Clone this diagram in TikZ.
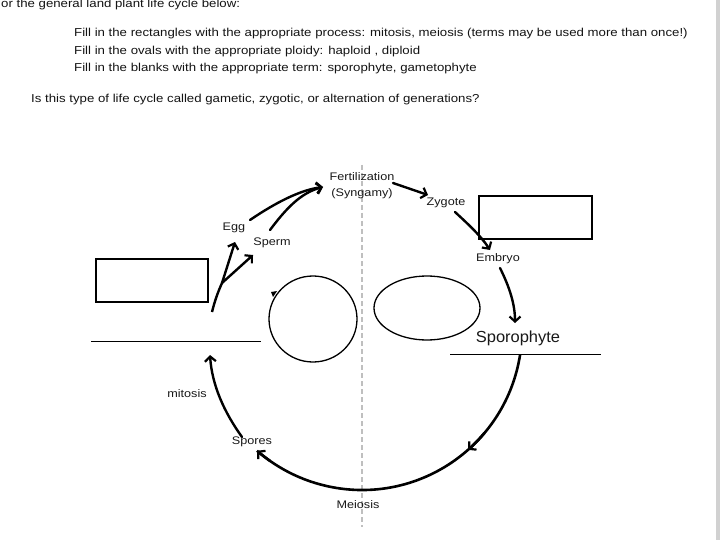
\documentclass[tikz,border=0pt]{standalone}
\usepackage{fontspec}
\setmainfont{Liberation Sans}
\usetikzlibrary{arrows.meta}
\newcommand\widetxt[1]{\scalebox{1.15}[1]{#1}}
\begin{document}
\begin{tikzpicture}[x=1pt,y=-1pt,
  hdr/.style={inner sep=0pt, anchor=west, font=\fontsize{11.5}{13}\selectfont, text=black!92},
  lbl/.style={inner sep=0pt, font=\fontsize{11}{13}\selectfont, text=black!90},
  arr/.style={line width=2.4pt, line cap=round, -{Straight Barb[length=5pt,width=11pt,line width=2.2pt]}},
  arc/.style={line width=2.6pt, -{Straight Barb[length=5pt,width=11pt,line width=2.2pt]}},
  boxe/.style={draw, line width=1.2pt},
  blank/.style={draw, line width=1pt},
  oval/.style={draw, line width=1.3pt}
]
\useasboundingbox[fill=white] (0,0) rectangle (720,540);
\fill[black!18] (716,0) rectangle (720,540);

% header text
\node[hdr] (t0) at (1,5) {\widetxt{or the general land plant life cycle below:}};
\node[hdr] (t1) at (74,34) {\widetxt{Fill in the rectangles with the appropriate process: mitosis, meiosis (terms may be used more than once!)}};
\node[hdr] (t2) at (74,52) {\widetxt{Fill in the ovals with the appropriate ploidy: haploid , diploid}};
\node[hdr] (t3) at (74,69) {\widetxt{Fill in the blanks with the appropriate term: sporophyte, gametophyte}};
\node[hdr] (t4) at (31,100) {\widetxt{Is this type of life cycle called gametic, zygotic, or alternation of generations?}};

% dashed divider
\draw[black!25, line width=1.3pt, dash pattern=on 5pt off 3pt] (362,165) coordinate (dtop) -- (362,527) coordinate (dbot);

% labels
\node[lbl, align=center, font=\fontsize{11}{16}\selectfont] (fert) at (362,186) {\widetxt{Fertilization}\\\widetxt{(Syngamy)}};
\node[lbl] (zyg) at (446,203) {\widetxt{Zygote}};
\node[lbl] (emb) at (498,259) {\widetxt{Embryo}};
\node[lbl, font=\fontsize{16}{18}\selectfont] (spor) at (518,338) {\scalebox{1.03}[1]{Sporophyte}};
\node[lbl] (egg) at (234,228) {\widetxt{Egg}};
\node[lbl] (sperm) at (272,243) {\widetxt{Sperm}};
\node[lbl] (mit) at (187,394) {\widetxt{mitosis}};
\node[lbl] (spores) at (252,442) {\widetxt{Spores}};
\node[lbl] (meio) at (358,505) {\widetxt{Meiosis}};

% rectangles, ovals, blanks
\draw[boxe] (479,196) rectangle (592,239);
\draw[boxe] (96,259) rectangle (208,302);
\draw[oval] (313,319) ellipse [x radius=44, y radius=43];
\draw[oval] (427,308) ellipse [x radius=53, y radius=32];
\fill (271,292) -- (277,291) -- (273,297) -- cycle;
\draw[blank] (91,341) -- (261,341);
\draw[blank] (450,354) -- (601,354);

% coordinates for connectors
\coordinate (eggS) at (250,220);
\coordinate (spermS) at (270,230);
\coordinate (fertW) at (323,187);
\coordinate (fertE) at (393,183);
\coordinate (zygW) at (428,195);
\coordinate (zygS) at (455,212);
\coordinate (embN) at (490,250);
\coordinate (embS) at (500,268);
\coordinate (sporN) at (515,323);
\coordinate (base) at (212,312);
\coordinate (fork) at (222,283);
\coordinate (eggT) at (235,242);
\coordinate (spermT) at (253,255);
\coordinate (sporesN) at (242,437);
\coordinate (gamB) at (210,355);

% connectors
\draw[arr] (eggS) .. controls (275,203) and (300,190) .. (fertW);
\draw[arr] (spermS) .. controls (285,210) and (300,193) .. (fertW);
\draw[arr] (fertE) -- (zygW);
\draw[arr] (zygS) .. controls (468,224) and (481,236) .. (embN);
\draw[arr] (embS) .. controls (510,288) and (515,305) .. (sporN);
\draw[line width=2.4pt] (base) .. controls (215,300) and (218,292) .. (fork);
\draw[arr] (fork) -- (eggT);
\draw[arr] (fork) -- (spermT);
\draw[arr] (sporesN) .. controls (224,412) and (212,385) .. (gamB);

% big arc
\draw[line width=2.6pt] (362,330) ++(9:160) arc[start angle=9, end angle=131, radius=160];
\draw[arc] (362,330) ++(40:160) arc[start angle=40, end angle=48.5, radius=160];
\draw[arc] (362,330) ++(125:160) arc[start angle=125, end angle=131, radius=160];
\end{tikzpicture}
\end{document}
